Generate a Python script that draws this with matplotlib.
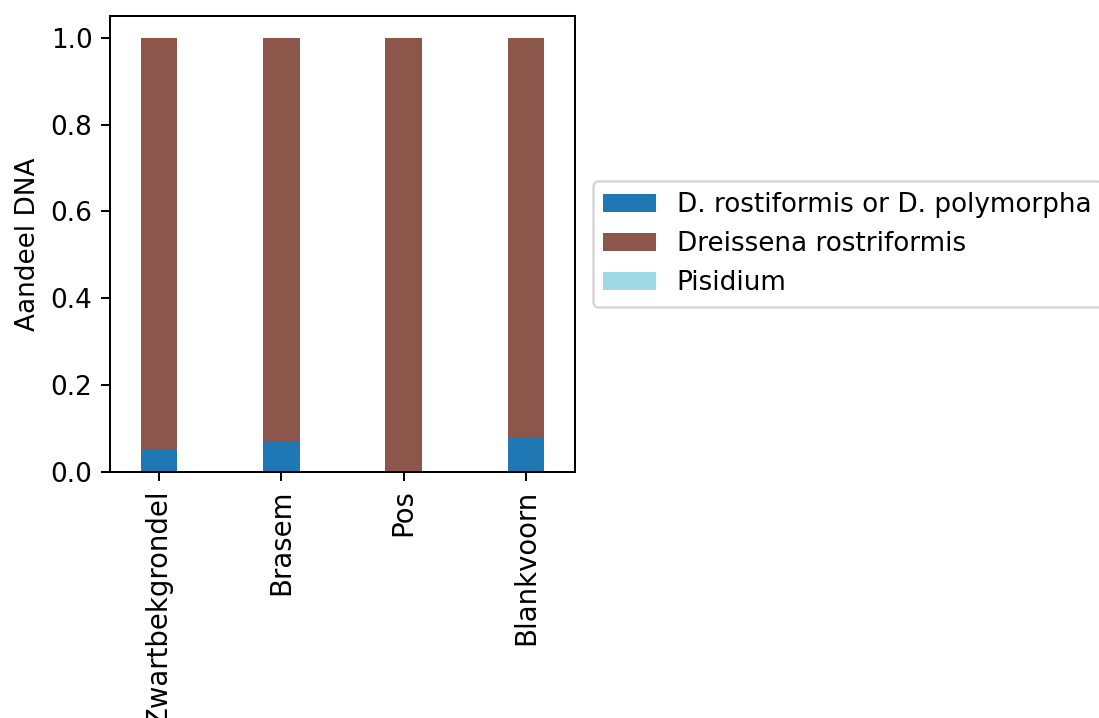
import matplotlib
matplotlib.use("Agg")
import matplotlib.pyplot as plt
import numpy as np

categories = ["Zwartbekgrondel", "Brasem", "Pos", "Blankvoorn"]
series_names = ["D. rostiformis or D. polymorpha", "Dreissena rostriformis", "Pisidium"]
d_rost_or_poly = [0.054, 0.070, 0.0, 0.078]
dreissena_rostriformis = [0.946, 0.930, 1.0, 0.922]
pisidium = [0.0, 0.0, 0.0, 0.0]
series_values = [d_rost_or_poly, dreissena_rostriformis, pisidium]

plt.rcParams["font.size"] = 10.5

cmap = plt.get_cmap("tab20")
colors = [cmap(0), cmap(10), cmap(19)]

fig = plt.figure(figsize=(1099/180, 718/180), dpi=180)
ax = fig.add_axes([110/1099, 1 - 472/718, 465/1099, 456/718])

x = np.arange(len(categories))
bottom = np.zeros(len(categories))
for name, vals, c in zip(series_names, series_values, colors):
    ax.bar(x, vals, width=0.3, bottom=bottom, color=c, label=name)
    bottom += np.array(vals)

ax.set_xticks(x)
ax.set_xticklabels(categories, rotation=90, fontsize=11)
ax.set_xlim(-0.4, 3.4)
ax.set_ylim(0, 1.05)
ax.set_yticks([0.0, 0.2, 0.4, 0.6, 0.8, 1.0])
ax.set_ylabel("Aandeel DNA")
ax.legend(loc="center left", bbox_to_anchor=(1.01, 0.5))

fig.savefig("out.png", dpi=180)
